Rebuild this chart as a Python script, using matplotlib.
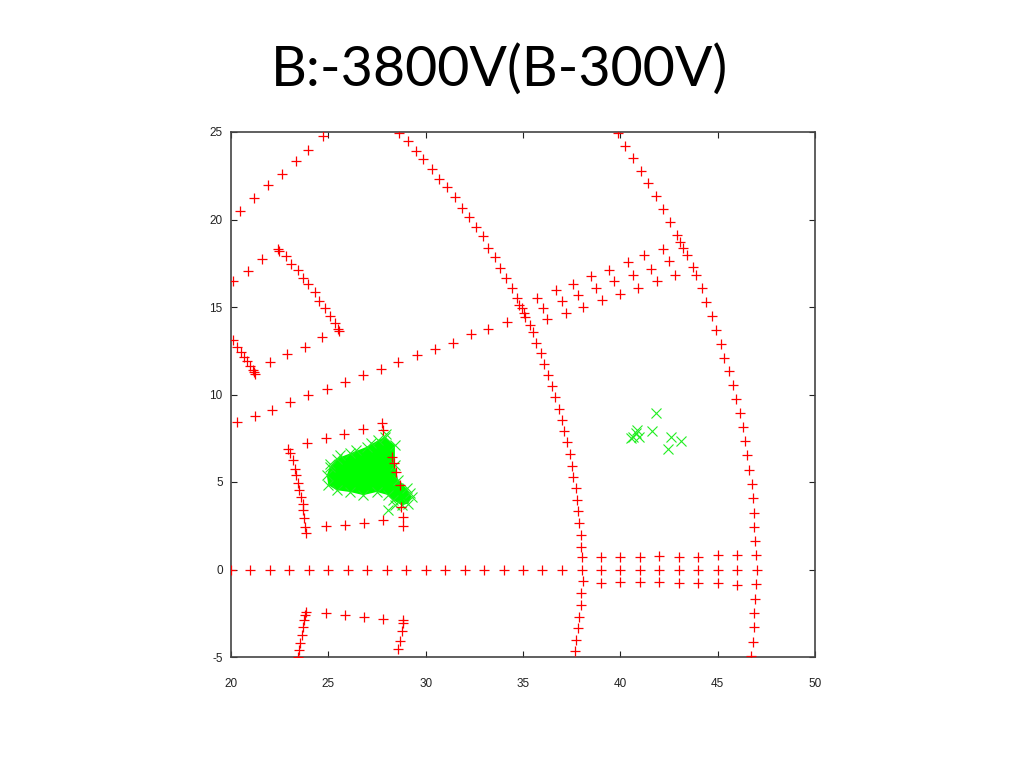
import numpy as np
import matplotlib
matplotlib.use("Agg")
import matplotlib.pyplot as plt

plt.rcParams["axes.unicode_minus"] = False

TITLE = "B:-3800V(B-300V)"

# ---- red "+" points (electrode outlines) ----
# upper-left diagonal
ul_x = [20.46, 21.18, 21.92, 22.60, 23.34, 23.97, 24.71]
ul_y = [20.47, 21.23, 22.00, 22.60, 23.35, 24.00, 24.75]

# small quadrilateral at upper left
quad_x = [20.09, 20.86, 21.61, 22.43,
          22.48, 22.82, 23.07, 23.44, 23.71, 23.97, 24.31, 24.53, 24.81, 25.08, 25.36, 25.48, 25.56,
          20.09, 20.29, 20.50, 20.67, 20.81, 20.98, 21.11, 21.18, 21.23,
          22.00, 22.89, 23.80, 24.66]
quad_y = [16.47, 17.08, 17.73, 18.33,
          18.21, 17.90, 17.45, 17.10, 16.63, 16.29, 15.83, 15.36, 14.92, 14.48, 14.07, 13.72, 13.64,
          13.10, 12.72, 12.43, 12.15, 11.90, 11.62, 11.39, 11.29, 11.20,
          11.83, 12.32, 12.73, 13.26]

# long rising line
rise_x = [20.29, 21.23, 22.12, 23.03, 23.97, 24.92, 25.86, 26.76, 27.69, 28.59, 29.54,
          30.48, 31.39, 32.33, 33.22, 34.16]
rise_y = [8.43, 8.78, 9.14, 9.56, 9.96, 10.29, 10.72, 11.10, 11.46, 11.83, 12.25,
          12.59, 12.97, 13.43, 13.77, 14.13]

# three rows between the arcs
row1_x = [35.73, 36.68, 37.55, 38.49, 39.43, 40.37, 41.23, 42.17]
row1_y = [15.54, 16.00, 16.34, 16.76, 17.14, 17.58, 17.96, 18.34]
row2_x = [36.04, 36.99, 37.84, 38.75, 39.69, 40.63, 41.57, 42.51]
row2_y = [14.95, 15.33, 15.66, 16.09, 16.47, 16.82, 17.20, 17.62]
row3_x = [36.25, 37.19, 38.09, 39.04, 39.98, 40.92, 41.86, 42.80]
row3_y = [14.29, 14.63, 15.01, 15.39, 15.73, 16.09, 16.47, 16.82]

# middle arc
arc_mid_x = [28.64, 29.11, 29.49, 29.88, 30.31, 30.70, 31.11, 31.50, 31.85, 32.24, 32.57,
             32.93, 33.22, 33.56, 33.82, 34.12, 34.42, 34.67, 34.81, 34.93, 35.05, 35.10,
             35.36, 35.50, 35.67, 35.91, 36.09, 36.30, 36.50, 36.64, 36.86, 37.02, 37.12,
             37.27, 37.41, 37.50, 37.58, 37.70, 37.79, 37.84, 37.89, 37.96, 37.96, 38.01,
             38.01, 38.06, 37.96, 37.96, 37.89, 37.81, 37.72, 37.67]
arc_mid_y = [24.97, 24.47, 23.90, 23.43, 22.87, 22.34, 21.83, 21.29, 20.66, 20.15, 19.58,
             19.05, 18.40, 17.86, 17.23, 16.63, 16.06, 15.49, 15.10, 14.95, 14.63, 14.43,
             13.96, 13.58, 12.97, 12.38, 11.73, 11.10, 10.47, 9.83, 9.20, 8.57, 7.90,
             7.26, 6.59, 5.92, 5.29, 4.63, 3.96, 3.33, 2.66, 1.96, 1.29, 0.69,
             -0.04, -0.67, -1.34, -2.00, -2.71, -3.37, -4.00, -4.65]

# right arc
arc_right_x = [39.86, 40.24, 40.66, 41.06, 41.43, 41.83, 42.20, 42.55, 42.92, 43.06, 43.23,
               43.41, 43.74, 43.88, 44.18, 44.40, 44.72, 44.91, 45.15, 45.34, 45.58, 45.77,
               45.94, 46.14, 46.31, 46.40, 46.49, 46.61, 46.74, 46.80, 46.86, 46.86, 46.91,
               46.96, 47.00, 46.96, 46.91, 46.88, 46.86, 46.80, 46.69]
arc_right_y = [24.97, 24.19, 23.52, 22.78, 22.06, 21.33, 20.59, 19.86, 19.14, 18.72, 18.38,
               18.00, 17.26, 16.82, 16.06, 15.29, 14.49, 13.71, 12.91, 12.11, 11.33, 10.53,
               9.73, 8.95, 8.15, 7.33, 6.53, 5.71, 4.87, 4.06, 3.23, 2.43, 1.63,
               0.82, 0.00, -0.80, -1.66, -2.48, -3.31, -4.14, -4.95]

# y = 0 row and the two short rows beside it
row0_x = [20, 21, 22, 23, 24, 25, 26, 27, 28, 29, 30, 31, 32, 33, 34, 35, 36, 37,
          39, 40, 41, 42, 43, 44, 45, 46]
row0_y = [0.0] * len(row0_x)
row_up_x = [39, 40, 41, 42, 43, 44, 45, 46]
row_up_y = [0.69, 0.72, 0.69, 0.78, 0.72, 0.72, 0.82, 0.82]
row_dn_x = [39, 40, 41, 42, 43, 44, 45, 46]
row_dn_y = [-0.77, -0.74, -0.74, -0.74, -0.77, -0.77, -0.77, -0.86]

# box around the green cloud
box_x = [22.94, 23.03, 23.17, 23.29, 23.34, 23.46, 23.51, 23.58, 23.68, 23.71, 23.76, 23.80, 23.85,
         23.92, 24.88, 25.80, 26.80, 27.74, 27.82,
         28.25, 28.37, 28.47, 28.68, 28.73, 28.82, 28.82,
         24.88, 25.86, 26.83, 27.82]
box_y = [6.86, 6.66, 6.25, 5.77, 5.39, 4.95, 4.57, 4.15, 3.73, 3.39, 2.97, 2.43, 2.06,
         7.23, 7.52, 7.77, 8.02, 8.38, 8.00,
         6.43, 6.06, 5.58, 4.82, 3.58, 3.01, 2.47,
         2.47, 2.53, 2.66, 2.82]

# bottom-left open box
low_x = [23.85, 23.80, 23.76, 23.71, 23.63, 23.54, 23.49, 23.43,
         24.88, 25.86, 26.83, 27.82,
         28.82, 28.82, 28.77, 28.68, 28.59]
low_y = [-2.42, -2.61, -2.90, -3.31, -3.75, -4.19, -4.61, -4.99,
         -2.51, -2.61, -2.74, -2.82,
         -2.90, -3.05, -3.51, -4.08, -4.57]

# ---- green "x" points ----
# outline of the dense cloud
cloud_x = [27.91, 28.42, 28.42, 28.59, 29.02, 29.28, 29.11, 28.77, 28.34, 28.08, 27.48,
           26.80, 26.11, 25.43, 25.00, 24.92, 25.08, 25.43, 26.11, 26.97, 27.57]
cloud_y = [7.58, 7.10, 5.96, 5.10, 4.63, 4.15, 3.77, 3.67, 3.96, 4.25, 4.43,
           4.25, 4.43, 4.53, 4.82, 5.39, 5.86, 6.34, 6.63, 7.01, 7.39]
stray_x = [28.08, 28.45, 25.10, 25.60, 26.40, 27.20, 29.20, 27.95]
stray_y = [3.39, 3.70, 6.05, 6.55, 6.85, 7.25, 4.40, 7.75]

# small group on the right
grp_x = [41.83, 40.84, 40.66, 40.97, 41.61, 42.60, 43.10, 42.43, 40.53, 40.80]
grp_y = [8.95, 7.96, 7.58, 7.58, 7.92, 7.58, 7.35, 6.86, 7.54, 7.79]

red_x = (ul_x + quad_x + rise_x + row1_x + row2_x + row3_x + arc_mid_x + arc_right_x
         + row0_x + row_up_x + row_dn_x + box_x + low_x)
red_y = (ul_y + quad_y + rise_y + row1_y + row2_y + row3_y + arc_mid_y + arc_right_y
         + row0_y + row_up_y + row_dn_y + box_y + low_y)

fig = plt.figure(figsize=(10.24, 7.68), dpi=100)
ax = fig.add_axes([231 / 1024, 111 / 768, 584 / 1024, 525 / 768])

green = "#22ee22"
ax.fill(cloud_x, cloud_y, color="#00ff00", lw=0, zorder=2)
ax.plot(cloud_x, cloud_y, "x", color=green, ms=7, mew=0.8, zorder=3)
ax.plot(stray_x, stray_y, "x", color=green, ms=7, mew=0.8, zorder=3)
ax.plot(grp_x, grp_y, "x", color=green, ms=7, mew=0.8, zorder=3)
ax.plot(red_x, red_y, "+", color="#ff0000", ms=7.5, mew=0.9, ls="none", zorder=4)

ax.set_xlim(20, 50)
ax.set_ylim(-5, 25)
ax.set_xticks(np.arange(20, 51, 5))
ax.set_yticks(np.arange(-5, 26, 5))
ax.tick_params(direction="in", top=True, right=True, length=4, width=0.8,
               labelsize=8.5, colors="#222222")
ax.tick_params(axis="x", pad=15)
ax.tick_params(axis="y", pad=6)
for lbl in ax.get_xticklabels() + ax.get_yticklabels():
    lbl.set_family("Liberation Sans")
for s in ax.spines.values():
    s.set_color("#444444")
    s.set_linewidth(1.2)

fig.text(0.488, 0.909, TITLE, ha="center", va="center", fontsize=40,
         family=["Lato", "DejaVu Sans"], color="black")

fig.savefig("out.png", dpi=100)
